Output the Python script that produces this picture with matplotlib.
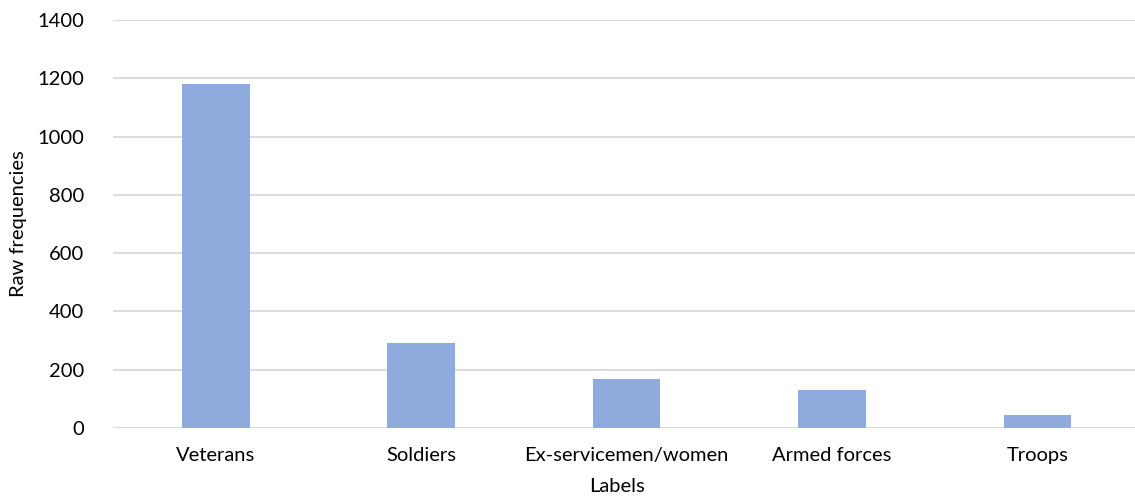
import matplotlib
matplotlib.use("Agg")
from matplotlib import pyplot as plt

labels = ["Veterans", "Soldiers", "Ex-servicemen/women", "Armed forces", "Troops"]
freqs = [1182, 290, 167, 130, 44]
yticks = [0, 200, 400, 600, 800, 1000, 1200, 1400]

plt.rcParams['font.family'] = ['Lato', 'DejaVu Sans']

fig = plt.figure(figsize=(11.35, 4.97), dpi=100)
ax = fig.add_axes([113 / 1135, 1 - 428 / 497, 1 - 113 / 1135, (428 - 20) / 497])

x = list(range(len(labels)))
ax.bar(x, freqs, width=0.33, color='#8faadc', zorder=3)

ax.set_ylim(0, 1400)
ax.set_xlim(-0.5, 4.475)
ax.set_yticks(yticks)
ax.set_xticks(x)
ax.set_xticklabels(labels)
ax.yaxis.grid(True, color='#d9d9d9', linewidth=1.3, zorder=0)
for s in ax.spines.values():
    s.set_visible(False)
ax.tick_params(axis='both', length=0, labelsize=14.5, colors='black')
ax.tick_params(axis='y', pad=21)
ax.tick_params(axis='x', pad=14)

# axis titles placed in figure coords
fig.text(617 / 1135, 1 - 487 / 497, 'Labels', fontsize=14.5, ha='center', va='center')
fig.text(19 / 1135, 1 - 224 / 497, 'Raw frequencies', fontsize=14.5, ha='center', va='center', rotation=90)

fig.savefig('out.png', dpi=100)
